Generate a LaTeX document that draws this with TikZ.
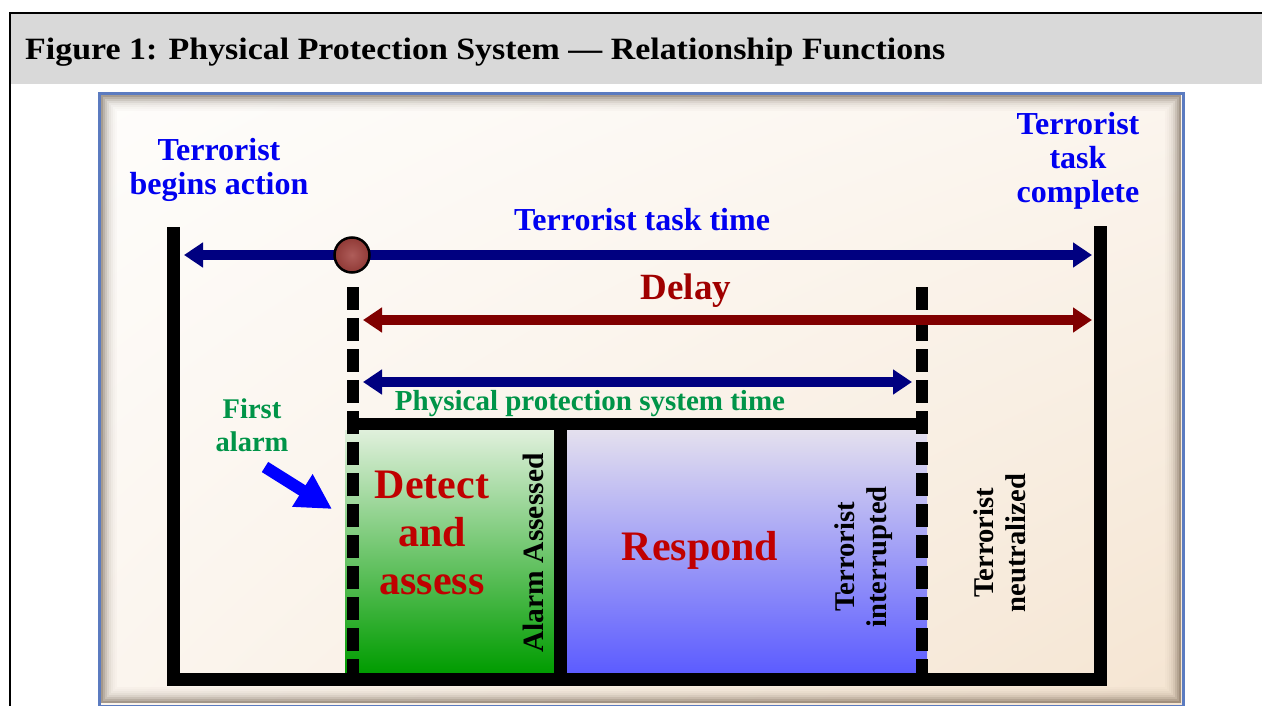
\documentclass[tikz,border=0pt]{standalone}
\usepackage{fontspec}
\setmainfont{Liberation Serif}
\usetikzlibrary{arrows.meta,shadings}
\definecolor{navyA}{HTML}{000080}
\definecolor{delayR}{HTML}{800000}
\definecolor{txtBlue}{HTML}{0000F0}
\definecolor{txtGreen}{HTML}{009448}
\definecolor{txtRed}{HTML}{C00000}
\definecolor{delayTxt}{HTML}{A00000}
\definecolor{frameBlue}{HTML}{5B7BC0}
\definecolor{titleGray}{HTML}{D9D9D9}
\definecolor{bgA}{HTML}{FEFDFB}
\definecolor{bgB}{HTML}{F5E5D2}
\definecolor{bgC}{HTML}{FBF5EE}
\definecolor{grTop}{HTML}{E0F0DC}
\definecolor{grMid}{HTML}{66C266}
\definecolor{grBot}{HTML}{009C00}
\definecolor{blTop}{HTML}{E4E0EE}
\definecolor{blMid}{HTML}{9A98F2}
\definecolor{blBot}{HTML}{5C5CFF}
\definecolor{dotRed}{HTML}{A0403C}
\tikzset{
  solidbar/.style={line width=13pt, black, line join=miter},
  dashbar/.style={line width=12pt, black, dash pattern=on 23pt off 8pt},
  bigarrow/.style={line width=10pt, {Triangle[length=19pt,width=24pt]}-{Triangle[length=19pt,width=24pt]}},
  lbl/.style={inner sep=0pt, align=center, font=\bfseries\fontsize{32}{34}\selectfont},
  vlbl/.style={inner sep=0pt, align=center, rotate=90, font=\bfseries\fontsize{28.6}{32}\selectfont},
}
\begin{document}
\begin{tikzpicture}[x=1pt,y=-1pt]
\useasboundingbox (0,0) rectangle (1262,706);
% page frame and title bar
\fill[titleGray] (10,13) rectangle (1262,84);
\draw[line width=2.5pt] (10,706) -- (10,13) -- (1262,13);
\node[anchor=base west, inner sep=0pt, font=\bfseries\fontsize{31}{34}\selectfont] (title) at (25,60) {\scalebox{1.094}[1]{Figure 1: Physical Protection System — Relationship Functions}};
% picture frame
\shade[upper left=bgA, upper right=bgC, lower left=bgC, lower right=bgB] (99,93) rectangle (1184,705);
\foreach \i/\o in {1/0.45,2/0.34,3/0.25,4/0.17,5/0.11,6/0.07,7/0.04,8/0.02}
  \draw[black!70!brown, opacity=\o, line width=2pt] (100+2*\i,94+2*\i) rectangle (1182-2*\i,704-2*\i);
\draw[frameBlue, line width=3pt] (99.5,93.5) rectangle (1183.5,706);
% coloured boxes
\shade[top color=grTop, middle color=grMid, bottom color=grBot] (345,430) rectangle (561,673);
\shade[top color=blTop, middle color=blMid, bottom color=blBot] (561,430) rectangle (927,673);
% coordinates
\coordinate (Ltop) at (173.5,227);
\coordinate (Lbot) at (173.5,679);
\coordinate (Rbot) at (1100,679);
\coordinate (Rtop) at (1100,226);
\coordinate (D1top) at (353,287);
\coordinate (D1bot) at (353,673);
\coordinate (D2top) at (921.5,287);
\coordinate (D2bot) at (921.5,673);
\coordinate (Hl) at (347,424);
\coordinate (Hr) at (927,424);
\coordinate (Mtop) at (560.5,418);
\coordinate (Mbot) at (560.5,673);
% bars
\draw[solidbar] (Ltop) -- (Lbot) -- (Rbot) -- (Rtop);
\draw[dashbar] (D1top) -- (D1bot);
\draw[dashbar] (D2top) -- (D2bot);
\draw[line width=12pt] (Hl) -- (Hr);
\draw[line width=13pt] (Mtop) -- (Mbot);
% arrows
\coordinate (A1l) at (184,255);
\coordinate (A1r) at (1092,255);
\coordinate (A2l) at (363,320);
\coordinate (A2r) at (1092,320);
\coordinate (A3l) at (363,382);
\coordinate (A3r) at (912,382);
\draw[bigarrow, navyA] (A1l) -- (A1r);
\draw[bigarrow, delayR] (A2l) -- (A2r);
\draw[bigarrow, navyA] (A3l) -- (A3r);
\node[circle, draw=black, line width=2.5pt, inner sep=0pt, minimum size=35pt, inner color=dotRed!85!white, outer color=dotRed!90!black] (dot) at (352,255) {};
% first alarm arrow
\coordinate (FAs) at (265,467);
\coordinate (FAe) at (332,509);
\draw[line width=12pt, blue, -{Triangle[length=35pt,width=36pt]}] (FAs) -- (FAe);
% labels
\node[lbl, txtBlue] (begins) at (219,170) {Terrorist\\begins action};
\node[lbl, txtBlue] (complete) at (1078,161) {Terrorist\\task\\complete};
\node[lbl, txtBlue] (tasktime) at (642,220) {Terrorist task time};
\node[lbl, delayTxt, font=\bfseries\fontsize{37}{40}\selectfont] (delay) at (686,291) {Delay};
\node[lbl, txtGreen, font=\bfseries\fontsize{29}{32}\selectfont] (ppst) at (590,404) {Physical protection system time};
\node[lbl, txtGreen, font=\bfseries\fontsize{28.5}{33}\selectfont] (first) at (252,425) {First\\alarm};
\node[lbl, txtRed, font=\bfseries\fontsize{42}{48}\selectfont] (detect) at (432,533) {Detect\\and\\assess};
\node[lbl, txtRed, font=\bfseries\fontsize{42}{48}\selectfont] (respond) at (700,550) {Respond};
\node[vlbl, font=\bfseries\fontsize{29.5}{32}\selectfont] (assessed) at (533,553) {Alarm Assessed};
\node[vlbl] (interrupted) at (864,557) {Terrorist\\interrupted};
\node[vlbl] (neutralized) at (1000,543) {Terrorist\\neutralized};
\end{tikzpicture}
\end{document}
